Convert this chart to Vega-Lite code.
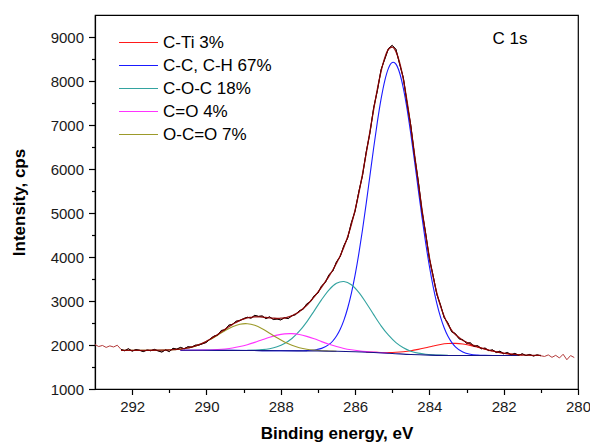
{
  "$schema": "https://vega.github.io/schema/vega-lite/v6.json",
  "width": 483,
  "height": 374,
  "autosize": {"type": "none"},
  "padding": {"left": 95, "top": 15, "right": 12, "bottom": 57},
  "config": {
    "font": "Liberation Sans",
    "view": {"stroke": "#000", "strokeWidth": 1.2},
    "axis": {
      "grid": false,
      "domainColor": "#000",
      "domainWidth": 1.2,
      "tickColor": "#000",
      "tickWidth": 1.2,
      "labelFont": "Liberation Sans",
      "labelFontSize": 15,
      "labelColor": "#1a1a1a",
      "labelOverlap": false,
      "labelFlush": false,
      "titleFont": "Liberation Sans",
      "titleFontSize": 17,
      "titleFontWeight": "bold",
      "titleColor": "#000"
    }
  },
  "datasets": {
    "components": [
      {"be": 285.7, "cps": 1839, "peak": "C-Ti 3%"},
      {"be": 285.5, "cps": 1835, "peak": "C-Ti 3%"},
      {"be": 285.3, "cps": 1830, "peak": "C-Ti 3%"},
      {"be": 285.1, "cps": 1831, "peak": "C-Ti 3%"},
      {"be": 284.9, "cps": 1836, "peak": "C-Ti 3%"},
      {"be": 284.7, "cps": 1848, "peak": "C-Ti 3%"},
      {"be": 284.5, "cps": 1868, "peak": "C-Ti 3%"},
      {"be": 284.3, "cps": 1900, "peak": "C-Ti 3%"},
      {"be": 284.1, "cps": 1938, "peak": "C-Ti 3%"},
      {"be": 283.9, "cps": 1978, "peak": "C-Ti 3%"},
      {"be": 283.7, "cps": 2013, "peak": "C-Ti 3%"},
      {"be": 283.5, "cps": 2033, "peak": "C-Ti 3%"},
      {"be": 283.35, "cps": 2038, "peak": "C-Ti 3%"},
      {"be": 283.3, "cps": 2037, "peak": "C-Ti 3%"},
      {"be": 283.1, "cps": 2022, "peak": "C-Ti 3%"},
      {"be": 282.9, "cps": 1991, "peak": "C-Ti 3%"},
      {"be": 282.7, "cps": 1950, "peak": "C-Ti 3%"},
      {"be": 282.5, "cps": 1905, "peak": "C-Ti 3%"},
      {"be": 282.3, "cps": 1863, "peak": "C-Ti 3%"},
      {"be": 282.1, "cps": 1829, "peak": "C-Ti 3%"},
      {"be": 281.9, "cps": 1802, "peak": "C-Ti 3%"},
      {"be": 281.7, "cps": 1785, "peak": "C-Ti 3%"},
      {"be": 281.5, "cps": 1773, "peak": "C-Ti 3%"},

      {"be": 290.7, "cps": 1880, "peak": "C-C, C-H 67%"},
      {"be": 289.5, "cps": 1878, "peak": "C-C, C-H 67%"},
      {"be": 288.5, "cps": 1873, "peak": "C-C, C-H 67%"},
      {"be": 287.5, "cps": 1869, "peak": "C-C, C-H 67%"},
      {"be": 287.3, "cps": 1873, "peak": "C-C, C-H 67%"},
      {"be": 287.1, "cps": 1886, "peak": "C-C, C-H 67%"},
      {"be": 286.9, "cps": 1923, "peak": "C-C, C-H 67%"},
      {"be": 286.7, "cps": 2013, "peak": "C-C, C-H 67%"},
      {"be": 286.6, "cps": 2091, "peak": "C-C, C-H 67%"},
      {"be": 286.5, "cps": 2204, "peak": "C-C, C-H 67%"},
      {"be": 286.4, "cps": 2359, "peak": "C-C, C-H 67%"},
      {"be": 286.3, "cps": 2566, "peak": "C-C, C-H 67%"},
      {"be": 286.2, "cps": 2835, "peak": "C-C, C-H 67%"},
      {"be": 286.1, "cps": 3174, "peak": "C-C, C-H 67%"},
      {"be": 286.0, "cps": 3587, "peak": "C-C, C-H 67%"},
      {"be": 285.9, "cps": 4071, "peak": "C-C, C-H 67%"},
      {"be": 285.8, "cps": 4620, "peak": "C-C, C-H 67%"},
      {"be": 285.7, "cps": 5220, "peak": "C-C, C-H 67%"},
      {"be": 285.6, "cps": 5849, "peak": "C-C, C-H 67%"},
      {"be": 285.5, "cps": 6477, "peak": "C-C, C-H 67%"},
      {"be": 285.4, "cps": 7070, "peak": "C-C, C-H 67%"},
      {"be": 285.3, "cps": 7592, "peak": "C-C, C-H 67%"},
      {"be": 285.2, "cps": 8010, "peak": "C-C, C-H 67%"},
      {"be": 285.1, "cps": 8293, "peak": "C-C, C-H 67%"},
      {"be": 285.0, "cps": 8421, "peak": "C-C, C-H 67%"},
      {"be": 284.97, "cps": 8426, "peak": "C-C, C-H 67%"},
      {"be": 284.9, "cps": 8382, "peak": "C-C, C-H 67%"},
      {"be": 284.8, "cps": 8182, "peak": "C-C, C-H 67%"},
      {"be": 284.7, "cps": 7833, "peak": "C-C, C-H 67%"},
      {"be": 284.6, "cps": 7360, "peak": "C-C, C-H 67%"},
      {"be": 284.5, "cps": 6795, "peak": "C-C, C-H 67%"},
      {"be": 284.4, "cps": 6176, "peak": "C-C, C-H 67%"},
      {"be": 284.3, "cps": 5538, "peak": "C-C, C-H 67%"},
      {"be": 284.2, "cps": 4911, "peak": "C-C, C-H 67%"},
      {"be": 284.1, "cps": 4322, "peak": "C-C, C-H 67%"},
      {"be": 284.0, "cps": 3793, "peak": "C-C, C-H 67%"},
      {"be": 283.9, "cps": 3333, "peak": "C-C, C-H 67%"},
      {"be": 283.8, "cps": 2947, "peak": "C-C, C-H 67%"},
      {"be": 283.7, "cps": 2634, "peak": "C-C, C-H 67%"},
      {"be": 283.6, "cps": 2387, "peak": "C-C, C-H 67%"},
      {"be": 283.5, "cps": 2198, "peak": "C-C, C-H 67%"},
      {"be": 283.4, "cps": 2060, "peak": "C-C, C-H 67%"},
      {"be": 283.3, "cps": 1960, "peak": "C-C, C-H 67%"},
      {"be": 283.1, "cps": 1843, "peak": "C-C, C-H 67%"},
      {"be": 282.9, "cps": 1791, "peak": "C-C, C-H 67%"},
      {"be": 282.7, "cps": 1771, "peak": "C-C, C-H 67%"},
      {"be": 282.5, "cps": 1764, "peak": "C-C, C-H 67%"},
      {"be": 282.3, "cps": 1761, "peak": "C-C, C-H 67%"},
      {"be": 281.7, "cps": 1760, "peak": "C-C, C-H 67%"},

      {"be": 288.9, "cps": 1879, "peak": "C-O-C 18%"},
      {"be": 288.7, "cps": 1884, "peak": "C-O-C 18%"},
      {"be": 288.5, "cps": 1894, "peak": "C-O-C 18%"},
      {"be": 288.3, "cps": 1916, "peak": "C-O-C 18%"},
      {"be": 288.1, "cps": 1959, "peak": "C-O-C 18%"},
      {"be": 287.9, "cps": 2033, "peak": "C-O-C 18%"},
      {"be": 287.7, "cps": 2148, "peak": "C-O-C 18%"},
      {"be": 287.5, "cps": 2313, "peak": "C-O-C 18%"},
      {"be": 287.3, "cps": 2527, "peak": "C-O-C 18%"},
      {"be": 287.1, "cps": 2776, "peak": "C-O-C 18%"},
      {"be": 286.9, "cps": 3032, "peak": "C-O-C 18%"},
      {"be": 286.7, "cps": 3254, "peak": "C-O-C 18%"},
      {"be": 286.5, "cps": 3401, "peak": "C-O-C 18%"},
      {"be": 286.32, "cps": 3443, "peak": "C-O-C 18%"},
      {"be": 286.3, "cps": 3442, "peak": "C-O-C 18%"},
      {"be": 286.1, "cps": 3370, "peak": "C-O-C 18%"},
      {"be": 285.9, "cps": 3197, "peak": "C-O-C 18%"},
      {"be": 285.7, "cps": 2956, "peak": "C-O-C 18%"},
      {"be": 285.5, "cps": 2691, "peak": "C-O-C 18%"},
      {"be": 285.3, "cps": 2436, "peak": "C-O-C 18%"},
      {"be": 285.1, "cps": 2222, "peak": "C-O-C 18%"},
      {"be": 284.9, "cps": 2055, "peak": "C-O-C 18%"},
      {"be": 284.7, "cps": 1939, "peak": "C-O-C 18%"},
      {"be": 284.5, "cps": 1860, "peak": "C-O-C 18%"},
      {"be": 284.3, "cps": 1815, "peak": "C-O-C 18%"},
      {"be": 284.1, "cps": 1789, "peak": "C-O-C 18%"},
      {"be": 283.9, "cps": 1776, "peak": "C-O-C 18%"},
      {"be": 283.7, "cps": 1769, "peak": "C-O-C 18%"},
      {"be": 283.5, "cps": 1764, "peak": "C-O-C 18%"},

      {"be": 290.7, "cps": 1880, "peak": "C=O 4%"},
      {"be": 290.5, "cps": 1881, "peak": "C=O 4%"},
      {"be": 290.3, "cps": 1882, "peak": "C=O 4%"},
      {"be": 290.1, "cps": 1884, "peak": "C=O 4%"},
      {"be": 289.9, "cps": 1888, "peak": "C=O 4%"},
      {"be": 289.7, "cps": 1896, "peak": "C=O 4%"},
      {"be": 289.5, "cps": 1910, "peak": "C=O 4%"},
      {"be": 289.3, "cps": 1931, "peak": "C=O 4%"},
      {"be": 289.1, "cps": 1964, "peak": "C=O 4%"},
      {"be": 288.9, "cps": 2007, "peak": "C=O 4%"},
      {"be": 288.7, "cps": 2060, "peak": "C=O 4%"},
      {"be": 288.5, "cps": 2119, "peak": "C=O 4%"},
      {"be": 288.3, "cps": 2176, "peak": "C=O 4%"},
      {"be": 288.1, "cps": 2224, "peak": "C=O 4%"},
      {"be": 287.9, "cps": 2253, "peak": "C=O 4%"},
      {"be": 287.75, "cps": 2259, "peak": "C=O 4%"},
      {"be": 287.7, "cps": 2258, "peak": "C=O 4%"},
      {"be": 287.5, "cps": 2238, "peak": "C=O 4%"},
      {"be": 287.3, "cps": 2196, "peak": "C=O 4%"},
      {"be": 287.1, "cps": 2140, "peak": "C=O 4%"},
      {"be": 286.9, "cps": 2077, "peak": "C=O 4%"},
      {"be": 286.7, "cps": 2018, "peak": "C=O 4%"},
      {"be": 286.5, "cps": 1965, "peak": "C=O 4%"},
      {"be": 286.3, "cps": 1922, "peak": "C=O 4%"},
      {"be": 286.1, "cps": 1891, "peak": "C=O 4%"},
      {"be": 285.9, "cps": 1867, "peak": "C=O 4%"},
      {"be": 285.7, "cps": 1849, "peak": "C=O 4%"},
      {"be": 285.5, "cps": 1837, "peak": "C=O 4%"},
      {"be": 285.3, "cps": 1824, "peak": "C=O 4%"},
      {"be": 285.1, "cps": 1814, "peak": "C=O 4%"},

      {"be": 292.3, "cps": 1880, "peak": "O-C=O 7%"},
      {"be": 291.9, "cps": 1880, "peak": "O-C=O 7%"},
      {"be": 291.5, "cps": 1881, "peak": "O-C=O 7%"},
      {"be": 291.3, "cps": 1882, "peak": "O-C=O 7%"},
      {"be": 291.1, "cps": 1885, "peak": "O-C=O 7%"},
      {"be": 290.9, "cps": 1893, "peak": "O-C=O 7%"},
      {"be": 290.7, "cps": 1907, "peak": "O-C=O 7%"},
      {"be": 290.5, "cps": 1933, "peak": "O-C=O 7%"},
      {"be": 290.3, "cps": 1975, "peak": "O-C=O 7%"},
      {"be": 290.1, "cps": 2038, "peak": "O-C=O 7%"},
      {"be": 289.9, "cps": 2122, "peak": "O-C=O 7%"},
      {"be": 289.7, "cps": 2222, "peak": "O-C=O 7%"},
      {"be": 289.5, "cps": 2326, "peak": "O-C=O 7%"},
      {"be": 289.3, "cps": 2415, "peak": "O-C=O 7%"},
      {"be": 289.1, "cps": 2473, "peak": "O-C=O 7%"},
      {"be": 288.95, "cps": 2486, "peak": "O-C=O 7%"},
      {"be": 288.9, "cps": 2484, "peak": "O-C=O 7%"},
      {"be": 288.7, "cps": 2447, "peak": "O-C=O 7%"},
      {"be": 288.5, "cps": 2369, "peak": "O-C=O 7%"},
      {"be": 288.3, "cps": 2268, "peak": "O-C=O 7%"},
      {"be": 288.1, "cps": 2163, "peak": "O-C=O 7%"},
      {"be": 287.9, "cps": 2068, "peak": "O-C=O 7%"},
      {"be": 287.7, "cps": 1992, "peak": "O-C=O 7%"},
      {"be": 287.5, "cps": 1938, "peak": "O-C=O 7%"},
      {"be": 287.3, "cps": 1903, "peak": "O-C=O 7%"},
      {"be": 287.1, "cps": 1883, "peak": "O-C=O 7%"},
      {"be": 286.9, "cps": 1870, "peak": "O-C=O 7%"},
      {"be": 286.7, "cps": 1864, "peak": "O-C=O 7%"},
      {"be": 286.5, "cps": 1858, "peak": "O-C=O 7%"}
    ],
    "background": [
      {"be": 290.7, "cps": 1880}, {"be": 290.1, "cps": 1880}, {"be": 289.5, "cps": 1878},
      {"be": 289.0, "cps": 1876}, {"be": 288.5, "cps": 1873}, {"be": 288.0, "cps": 1870},
      {"be": 287.5, "cps": 1867}, {"be": 287.0, "cps": 1863}, {"be": 286.5, "cps": 1857},
      {"be": 286.0, "cps": 1847}, {"be": 285.5, "cps": 1830}, {"be": 285.0, "cps": 1808},
      {"be": 284.5, "cps": 1783}, {"be": 284.0, "cps": 1769}, {"be": 283.5, "cps": 1763},
      {"be": 283.0, "cps": 1761}, {"be": 282.5, "cps": 1760}, {"be": 281.6, "cps": 1760}
    ],
    "measured": [
      {"be": 293.0, "cps": 2010}, {"be": 292.9, "cps": 1965}, {"be": 292.8, "cps": 1990},
      {"be": 292.7, "cps": 1945}, {"be": 292.6, "cps": 1980}, {"be": 292.5, "cps": 1955},
      {"be": 292.4, "cps": 1995}, {"be": 292.3, "cps": 1900}, {"be": 292.2, "cps": 1870},
      {"be": 292.1, "cps": 1915}, {"be": 292.0, "cps": 1860}, {"be": 291.9, "cps": 1895},
      {"be": 291.8, "cps": 1880}, {"be": 291.7, "cps": 1850}, {"be": 291.6, "cps": 1885},
      {"be": 291.5, "cps": 1870}, {"be": 291.4, "cps": 1900}, {"be": 291.3, "cps": 1865},
      {"be": 291.2, "cps": 1840}, {"be": 291.1, "cps": 1890}, {"be": 291.0, "cps": 1850},
      {"be": 290.9, "cps": 1925}, {"be": 290.8, "cps": 1905}, {"be": 290.7, "cps": 1945},
      {"be": 290.6, "cps": 1915}, {"be": 290.5, "cps": 1960}, {"be": 290.4, "cps": 1950},
      {"be": 290.3, "cps": 1995}, {"be": 290.2, "cps": 2000}, {"be": 290.1, "cps": 2030},
      {"be": 290.0, "cps": 2060}, {"be": 289.9, "cps": 2140}, {"be": 289.8, "cps": 2200},
      {"be": 289.7, "cps": 2225}, {"be": 289.6, "cps": 2330}, {"be": 289.5, "cps": 2345},
      {"be": 289.4, "cps": 2450}, {"be": 289.3, "cps": 2470}, {"be": 289.2, "cps": 2540},
      {"be": 289.1, "cps": 2555}, {"be": 289.0, "cps": 2600}, {"be": 288.9, "cps": 2630},
      {"be": 288.8, "cps": 2610}, {"be": 288.7, "cps": 2675}, {"be": 288.6, "cps": 2650},
      {"be": 288.5, "cps": 2660}, {"be": 288.4, "cps": 2600}, {"be": 288.3, "cps": 2640},
      {"be": 288.2, "cps": 2580}, {"be": 288.1, "cps": 2590}, {"be": 288.0, "cps": 2570},
      {"be": 287.9, "cps": 2620}, {"be": 287.8, "cps": 2600}, {"be": 287.7, "cps": 2665},
      {"be": 287.6, "cps": 2690}, {"be": 287.5, "cps": 2780}, {"be": 287.4, "cps": 2810},
      {"be": 287.3, "cps": 2935}, {"be": 287.2, "cps": 2985}, {"be": 287.1, "cps": 3120},
      {"be": 287.0, "cps": 3180}, {"be": 286.9, "cps": 3345}, {"be": 286.8, "cps": 3420},
      {"be": 286.7, "cps": 3600}, {"be": 286.6, "cps": 3680}, {"be": 286.5, "cps": 3890},
      {"be": 286.4, "cps": 4010}, {"be": 286.3, "cps": 4260}, {"be": 286.2, "cps": 4430},
      {"be": 286.1, "cps": 4780}, {"be": 286.0, "cps": 5040}, {"be": 285.9, "cps": 5480},
      {"be": 285.8, "cps": 5850}, {"be": 285.7, "cps": 6390}, {"be": 285.6, "cps": 6820},
      {"be": 285.5, "cps": 7390}, {"be": 285.4, "cps": 7780}, {"be": 285.3, "cps": 8260},
      {"be": 285.2, "cps": 8500}, {"be": 285.1, "cps": 8740}, {"be": 285.0, "cps": 8810},
      {"be": 284.9, "cps": 8720}, {"be": 284.8, "cps": 8380}, {"be": 284.7, "cps": 8070},
      {"be": 284.6, "cps": 7490}, {"be": 284.5, "cps": 6990}, {"be": 284.4, "cps": 6300},
      {"be": 284.3, "cps": 5730}, {"be": 284.2, "cps": 5050}, {"be": 284.1, "cps": 4540},
      {"be": 284.0, "cps": 3960}, {"be": 283.9, "cps": 3580}, {"be": 283.8, "cps": 3150},
      {"be": 283.7, "cps": 2910}, {"be": 283.6, "cps": 2620}, {"be": 283.5, "cps": 2500},
      {"be": 283.4, "cps": 2300}, {"be": 283.3, "cps": 2260}, {"be": 283.2, "cps": 2140},
      {"be": 283.1, "cps": 2120}, {"be": 283.0, "cps": 2040}, {"be": 282.9, "cps": 2050},
      {"be": 282.8, "cps": 1970}, {"be": 282.7, "cps": 1985}, {"be": 282.6, "cps": 1915},
      {"be": 282.5, "cps": 1930}, {"be": 282.4, "cps": 1870}, {"be": 282.3, "cps": 1890},
      {"be": 282.2, "cps": 1830}, {"be": 282.1, "cps": 1860}, {"be": 282.0, "cps": 1800},
      {"be": 281.9, "cps": 1830}, {"be": 281.8, "cps": 1775}, {"be": 281.7, "cps": 1810},
      {"be": 281.6, "cps": 1765}, {"be": 281.5, "cps": 1800}, {"be": 281.4, "cps": 1760},
      {"be": 281.3, "cps": 1785}, {"be": 281.2, "cps": 1750}, {"be": 281.1, "cps": 1775},
      {"be": 281.0, "cps": 1755}, {"be": 280.9, "cps": 1740}, {"be": 280.8, "cps": 1775},
      {"be": 280.7, "cps": 1720}, {"be": 280.6, "cps": 1765}, {"be": 280.5, "cps": 1705},
      {"be": 280.4, "cps": 1790}, {"be": 280.3, "cps": 1665}, {"be": 280.2, "cps": 1760},
      {"be": 280.1, "cps": 1715}
    ],
    "envelope": [
      {"be": 292.3, "cps": 1880}, {"be": 292.2, "cps": 1880}, {"be": 292.1, "cps": 1880},
      {"be": 292.0, "cps": 1880}, {"be": 291.9, "cps": 1880}, {"be": 291.8, "cps": 1880},
      {"be": 291.7, "cps": 1880}, {"be": 291.6, "cps": 1880}, {"be": 291.5, "cps": 1881},
      {"be": 291.4, "cps": 1881}, {"be": 291.3, "cps": 1882}, {"be": 291.2, "cps": 1883},
      {"be": 291.1, "cps": 1885}, {"be": 291.0, "cps": 1889}, {"be": 290.9, "cps": 1893},
      {"be": 290.8, "cps": 1900}, {"be": 290.7, "cps": 1907}, {"be": 290.6, "cps": 1920},
      {"be": 290.5, "cps": 1933}, {"be": 290.4, "cps": 1955}, {"be": 290.3, "cps": 1977},
      {"be": 290.2, "cps": 2009}, {"be": 290.1, "cps": 2042}, {"be": 290.0, "cps": 2086},
      {"be": 289.9, "cps": 2131}, {"be": 289.8, "cps": 2185}, {"be": 289.7, "cps": 2239},
      {"be": 289.6, "cps": 2298}, {"be": 289.5, "cps": 2358}, {"be": 289.4, "cps": 2414},
      {"be": 289.3, "cps": 2470}, {"be": 289.2, "cps": 2515}, {"be": 289.1, "cps": 2561},
      {"be": 289.0, "cps": 2590}, {"be": 288.9, "cps": 2619}, {"be": 288.8, "cps": 2630},
      {"be": 288.7, "cps": 2642}, {"be": 288.6, "cps": 2638}, {"be": 288.5, "cps": 2635},
      {"be": 288.4, "cps": 2626}, {"be": 288.3, "cps": 2617}, {"be": 288.2, "cps": 2610},
      {"be": 288.1, "cps": 2604}, {"be": 288.0, "cps": 2609}, {"be": 287.9, "cps": 2614},
      {"be": 287.8, "cps": 2637}, {"be": 287.7, "cps": 2661}, {"be": 287.6, "cps": 2710},
      {"be": 287.5, "cps": 2757}, {"be": 287.4, "cps": 2830}, {"be": 287.3, "cps": 2902},
      {"be": 287.2, "cps": 2997}, {"be": 287.1, "cps": 3092}, {"be": 287.0, "cps": 3204},
      {"be": 286.9, "cps": 3316}, {"be": 286.8, "cps": 3441}, {"be": 286.7, "cps": 3567},
      {"be": 286.6, "cps": 3705}, {"be": 286.5, "cps": 3857}, {"be": 286.4, "cps": 4027},
      {"be": 286.3, "cps": 4225}, {"be": 286.2, "cps": 4459}, {"be": 286.1, "cps": 4738},
      {"be": 286.0, "cps": 5067}, {"be": 285.9, "cps": 5449}, {"be": 285.8, "cps": 5881},
      {"be": 285.7, "cps": 6354}, {"be": 285.6, "cps": 6851}, {"be": 285.5, "cps": 7348},
      {"be": 285.4, "cps": 7815}, {"be": 285.3, "cps": 8219}, {"be": 285.2, "cps": 8531},
      {"be": 285.1, "cps": 8721}, {"be": 285.0, "cps": 8770}, {"be": 284.9, "cps": 8667},
      {"be": 284.8, "cps": 8418}, {"be": 284.7, "cps": 8033}, {"be": 284.6, "cps": 7535},
      {"be": 284.5, "cps": 6957}, {"be": 284.4, "cps": 6334}, {"be": 284.3, "cps": 5699},
      {"be": 284.2, "cps": 5082}, {"be": 284.1, "cps": 4507}, {"be": 284.0, "cps": 3994},
      {"be": 283.9, "cps": 3551}, {"be": 283.8, "cps": 3182}, {"be": 283.7, "cps": 2884},
      {"be": 283.6, "cps": 2649}, {"be": 283.5, "cps": 2469}, {"be": 283.4, "cps": 2334},
      {"be": 283.3, "cps": 2235}, {"be": 283.2, "cps": 2169}, {"be": 283.1, "cps": 2103},
      {"be": 283.0, "cps": 2062}, {"be": 282.9, "cps": 2021}, {"be": 282.8, "cps": 1990},
      {"be": 282.7, "cps": 1960}, {"be": 282.6, "cps": 1934}, {"be": 282.5, "cps": 1908},
      {"be": 282.4, "cps": 1886}, {"be": 282.3, "cps": 1864}, {"be": 282.2, "cps": 1846},
      {"be": 282.1, "cps": 1829}, {"be": 282.0, "cps": 1815}, {"be": 281.9, "cps": 1802},
      {"be": 281.8, "cps": 1793}, {"be": 281.7, "cps": 1785}, {"be": 281.6, "cps": 1779},
      {"be": 281.5, "cps": 1773}, {"be": 281.4, "cps": 1770}, {"be": 281.3, "cps": 1767},
      {"be": 281.2, "cps": 1765}, {"be": 281.1, "cps": 1763}, {"be": 281.0, "cps": 1762}
    ],
    "labels": [
      {"be": 282.3, "cps": 8840, "text": "C 1s"}
    ]
  },
  "encoding": {
    "x": {
      "field": "be",
      "type": "quantitative",
      "scale": {"domain": [280, 293], "reverse": true, "nice": false, "zero": false},
      "axis": {
        "title": "Binding energy, eV",
        "values": [280, 281, 282, 283, 284, 285, 286, 287, 288, 289, 290, 291, 292],
        "format": "d",
        "labelExpr": "datum.value % 2 === 0 ? datum.label : ''",
        "tickSize": {"condition": {"test": "datum.value % 2 !== 0", "value": 3.5}, "value": 5.5},
        "labelPadding": 5,
        "titlePadding": 11
      }
    },
    "y": {
      "field": "cps",
      "type": "quantitative",
      "scale": {"domain": [1000, 9500], "nice": false, "zero": false},
      "axis": {
        "title": "Intensity, cps",
        "values": [1000, 1500, 2000, 2500, 3000, 3500, 4000, 4500, 5000, 5500, 6000, 6500, 7000, 7500, 8000, 8500, 9000],
        "format": "d",
        "labelExpr": "datum.value % 1000 === 0 ? datum.label : ''",
        "tickSize": {"condition": {"test": "datum.value % 1000 !== 0", "value": 3.5}, "value": 6.5},
        "labelPadding": 5,
        "titlePadding": 22
      }
    }
  },
  "layer": [
    {
      "data": {"name": "components"},
      "mark": {"type": "line", "strokeWidth": 1.1, "interpolate": "monotone"},
      "encoding": {
        "color": {
          "field": "peak",
          "type": "nominal",
          "scale": {
            "domain": ["C-Ti 3%", "C-C, C-H 67%", "C-O-C 18%", "C=O 4%", "O-C=O 7%"],
            "range": ["#ff1a1a", "#1a1aff", "#33a3a0", "#ff33ff", "#9c9a2a"]
          },
          "legend": {
            "title": null,
            "orient": "none",
            "legendX": 23,
            "legendY": 19,
            "padding": 0,
            "symbolType": "M-2.6,0H2.6",
            "symbolSize": 225,
            "symbolStrokeWidth": 1.2,
            "symbolOffset": 12,
            "labelOffset": 16,
            "labelFont": "Liberation Sans",
            "labelFontSize": 17,
            "labelColor": "#000",
            "rowPadding": 5,
            "encode": {
              "symbols": {
                "update": {
                  "stroke": {"scale": "color", "field": "value"},
                  "fill": {"value": "transparent"}
                }
              }
            }
          }
        }
      }
    },
    {
      "data": {"name": "background"},
      "mark": {"type": "line", "strokeWidth": 1.1, "color": "#141488", "interpolate": "monotone"},
      "encoding": {}
    },
    {
      "data": {"name": "measured"},
      "mark": {"type": "line", "strokeWidth": 1, "color": "#b33a3a"},
      "encoding": {}
    },
    {
      "data": {"name": "measured"},
      "transform": [{"filter": "datum.be <= 292.3 && datum.be >= 281.0"}],
      "mark": {"type": "line", "strokeWidth": 1, "color": "#000000"},
      "encoding": {}
    },
    {
      "data": {"name": "envelope"},
      "mark": {"type": "line", "strokeWidth": 1.3, "color": "#8b0000", "opacity": 0.9, "interpolate": "monotone"},
      "encoding": {}
    },
    {
      "data": {"name": "labels"},
      "mark": {"type": "text", "align": "left", "baseline": "alphabetic", "font": "Liberation Sans", "fontSize": 17, "color": "#000"},
      "encoding": {"text": {"field": "text"}}
    }
  ]
}
